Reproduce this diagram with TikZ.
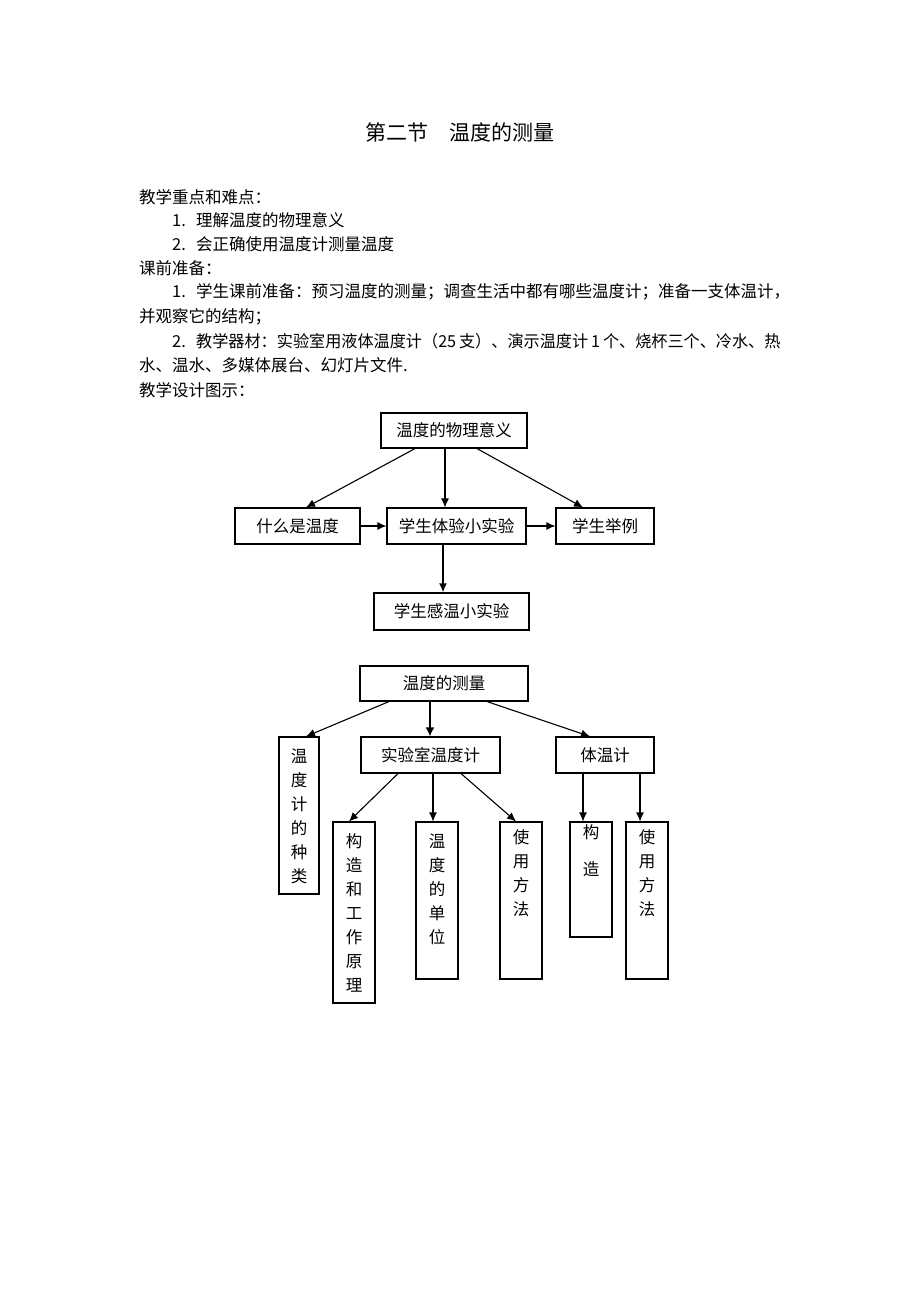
\documentclass[tikz,border=0pt]{standalone}
\usepackage{fontspec}
\usepackage{graphicx}
\setmainfont{Noto Sans CJK SC}
\usetikzlibrary{arrows.meta}
\begin{document}
\begin{tikzpicture}[x=1pt,y=-1pt,
  box/.style={draw, line width=1.1pt, inner sep=0pt, font=\fontsize{16.5}{20}\selectfont},
  vtext/.style={anchor=north, inner sep=0pt, align=center, font=\fontsize{16.5}{24}\selectfont},
  arr/.style={line width=1.1pt, -{Latex[length=9pt,width=8pt]}},
  thickarr/.style={line width=2.2pt, -{Latex[length=9pt,width=9pt]}},
  body/.style={anchor=west, inner sep=0pt, font=\fontsize{16.5}{20}\selectfont}]
\useasboundingbox[fill=white] (0,0) rectangle (920,1302);

% title and text
\node[inner sep=0pt, font=\fontsize{21}{24}\selectfont] (title) at (459.5,132) {第二节\hspace{21pt}温度的测量};
\node[body] (t1) at (139,197) {教学重点和难点：};
\node[body] (t2) at (172,220) {\makebox[24pt][l]{1.}理解温度的物理意义};
\node[body] (t3) at (172,244) {\makebox[24pt][l]{2.}会正确使用温度计测量温度};
\node[body] (t4) at (139,268) {课前准备：};
\node[body] (t5) at (172,292) {\makebox[24pt][l]{1.}学生课前准备：预习温度的测量；调查生活中都有哪些温度计；准备一支体温计，};
\node[body] (t6) at (139,317) {并观察它的结构；};
\node[body] (t7) at (172,341) {\makebox[24pt][l]{2.}\scalebox{0.978}[1]{教学器材：实验室用液体温度计（25\hspace{3pt}支）、演示温度计\hspace{3pt}1\hspace{3pt}个、烧杯三个、冷水、热}};
\node[body] (t8) at (139,365) {水、温水、多媒体展台、幻灯片文件.};
\node[body] (t9) at (139,390) {教学设计图示：};

% diagram 1
\node[box, minimum width=146pt, minimum height=35pt] (A) at (454,430.5) {温度的物理意义};
\node[box, minimum width=125pt, minimum height=36pt] (B) at (297.5,526) {什么是温度\hspace{18pt}};
\node[box, minimum width=139pt, minimum height=36pt] (C) at (456.5,526) {学生体验小实验};
\node[box, minimum width=98pt, minimum height=36pt] (D) at (605,526) {学生举例};
\node[box, minimum width=155pt, minimum height=37pt] (E) at (451.5,611.5) {学生感温小实验\hspace{18pt}};

\draw[arr] ([xshift=-39pt]A.south) -- ([xshift=8.5pt]B.north);
\draw[arr] ([xshift=-9pt]A.south) -- ([xshift=-11.5pt]C.north);
\draw[arr] ([xshift=23pt]A.south) -- ([xshift=-22pt]D.north);
\draw[arr] (B.east) -- (C.west);
\draw[arr] (C.east) -- (D.west);
\draw[line width=1.8pt, -{Latex[length=9pt,width=8pt]}] ([xshift=-13.5pt]C.south) -- ([xshift=-8.5pt]E.north);

% diagram 2
\node[box, minimum width=168pt, minimum height=35pt] (F) at (444,683.5) {温度的测量};
\node[box, minimum width=40pt, minimum height=157pt] (G) at (299,815.5) {};
\node[box, minimum width=139pt, minimum height=36pt] (H) at (430.5,755) {实验室温度计};
\node[box, minimum width=98pt, minimum height=36pt] (I) at (605,755) {体温计};
\node[box, minimum width=42pt, minimum height=181pt] (J) at (354,912.5) {};
\node[box, minimum width=42pt, minimum height=157pt] (K) at (437,900.5) {};
\node[box, minimum width=42pt, minimum height=157pt] (L) at (521,900.5) {};
\node[box, minimum width=42pt, minimum height=115pt] (M) at (591,879.5) {};
\node[box, minimum width=42pt, minimum height=157pt] (N) at (647,900.5) {};

\node[vtext] (Gt) at ([yshift=-12pt]G.north) {温\\度\\计\\的\\种\\类};
\node[vtext] (Jt) at ([yshift=-12pt]J.north) {构\\造\\和\\工\\作\\原\\理};
\node[vtext] (Kt) at ([yshift=-12pt]K.north) {温\\度\\的\\单\\位};
\node[vtext] (Lt) at ([yshift=-8pt]L.north) {使\\用\\方\\法};
\node[vtext, font=\fontsize{16.5}{37}\selectfont] (Mt) at ([yshift=-3pt]M.north) {构\\造};
\node[vtext] (Nt) at ([yshift=-8pt]N.north) {使\\用\\方\\法};

\draw[arr] ([xshift=-55pt]F.south) -- ([xshift=7pt]G.north);
\draw[thickarr] ([xshift=-14pt]F.south) -- ([xshift=-0.5pt]H.north);
\draw[arr] ([xshift=43pt]F.south) -- ([xshift=-15pt]I.north);
\draw[arr] ([xshift=-32.5pt]H.south) -- ([xshift=-5pt]J.north);
\draw[arr] ([xshift=2.5pt]H.south) -- ([xshift=-4pt]K.north);
\draw[arr] ([xshift=30.5pt]H.south) -- ([xshift=-5pt]L.north);
\draw[arr] ([xshift=-22pt]I.south) -- ([xshift=-8pt]M.north);
\draw[arr] ([xshift=35pt]I.south) -- ([xshift=-7pt]N.north);
\end{tikzpicture}
\end{document}
